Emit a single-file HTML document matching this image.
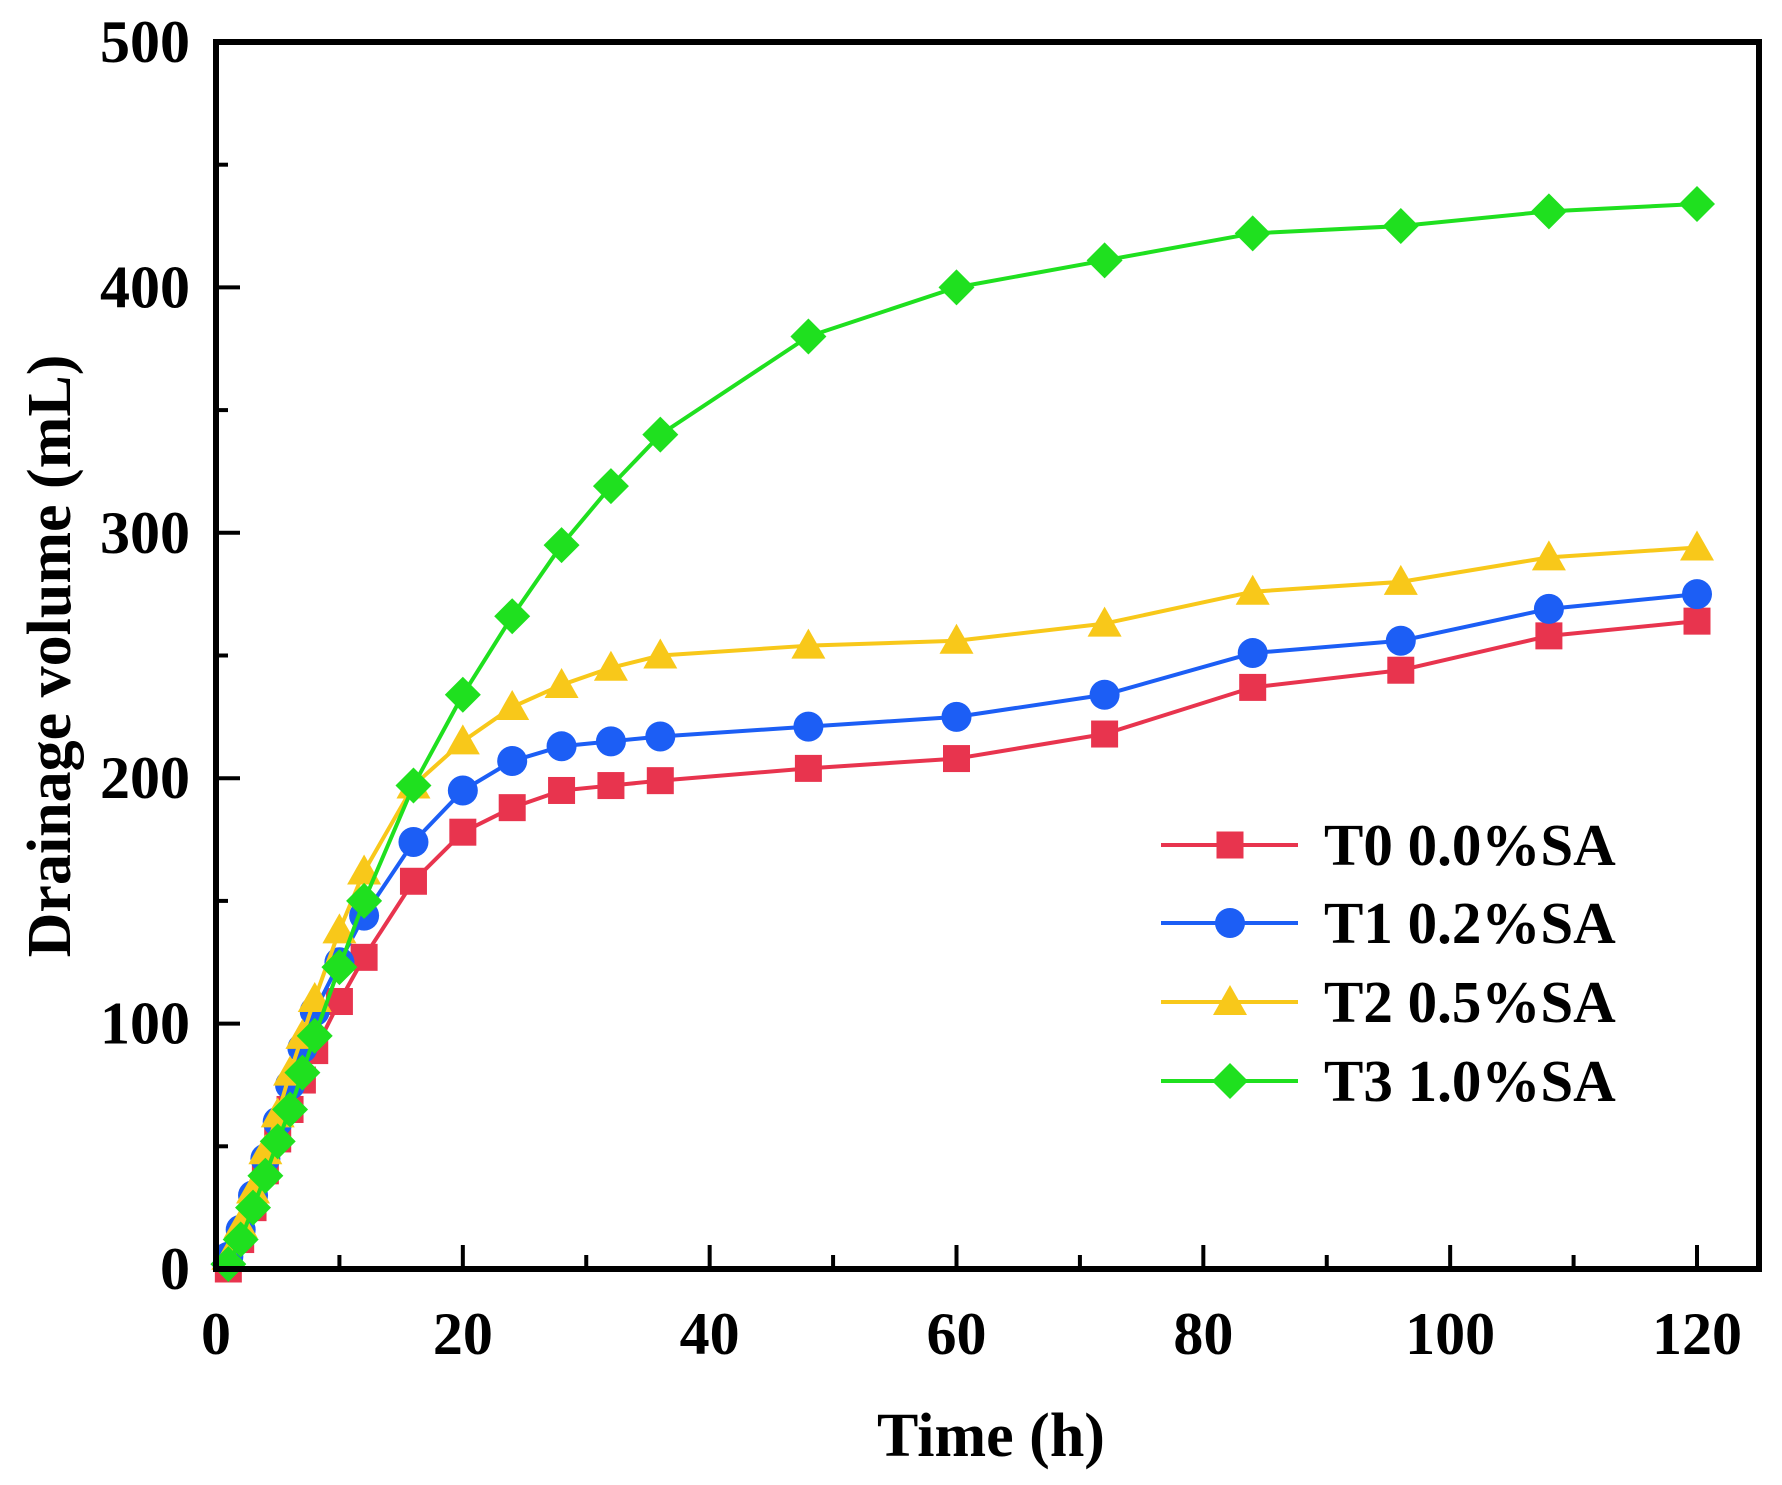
<!DOCTYPE html>
<html><head><meta charset="utf-8"><style>
html,body{margin:0;padding:0;background:#fff;}
svg{display:block;}
text{font-family:"Liberation Serif",serif;font-weight:bold;fill:#000;}
</style></head><body>
<svg id="chart" width="1782" height="1485" viewBox="0 0 1782 1485" xmlns="http://www.w3.org/2000/svg">
<g id="marks"></g>
<g id="axes"></g>
<g id="legend"></g>
</svg>
<script>
const times = [1,2,3,4,5,6,7,8,10,12,16,20,24,28,32,36,48,60,72,84,96,108,120];
const t0Values = [0,12,25,40,53,65,77,89,109,127,158,178,188,195,197,199,204,208,218,237,244,258,264];
const t1Values = [5,16,30,45,60,75,90,105,125,144,174,195,207,213,215,217,221,225,234,251,256,269,275];
const t2Values = [5,18,32,48,63,80,95,110,138,162,197,215,229,238,245,250,254,256,263,276,280,290,294];
const t3Values = [2,12,25,38,52,65,80,95,123,150,197,234,266,295,319,340,380,400,411,422,425,431,434];
const seriesNames = ["T0 0.0%SA","T1 0.2%SA","T2 0.5%SA","T3 1.0%SA"];
const xTicks = [0,20,40,60,80,100,120];
const yTicks = [0,100,200,300,400,500];

const NS="http://www.w3.org/2000/svg";
const L=216,R=1759,T=42,B=1269;
const x0=216, x120=1697;
function xs(v){return x0+(x120-x0)*v/120;}
function ys(v){return B-(B-T)*v/500;}
function mk(tag,attrs,parent){const e=document.createElementNS(NS,tag);for(const k in attrs)e.setAttribute(k,attrs[k]);parent.appendChild(e);return e;}
const marks=document.getElementById('marks'),axes=document.getElementById('axes'),legend=document.getElementById('legend');
const colors=["#e8344e","#1c5ef5","#f8c81a","#1fe01f"];
const shapes=["square","circle","triangle","diamond"];
const data=[t0Values,t1Values,t2Values,t3Values];
function marker(shape,x,y,color,parent){
  let e;
  if(shape==="square") e=mk('rect',{x:x-13.5,y:y-13.5,width:27,height:27,fill:color},parent);
  else if(shape==="circle") e=mk('circle',{cx:x,cy:y,r:15,fill:color},parent);
  else if(shape==="triangle") e=mk('polygon',{points:`${x},${y-17} ${x+17},${y+13} ${x-17},${y+13}`,fill:color},parent);
  else e=mk('polygon',{points:`${x},${y-18} ${x+18},${y} ${x},${y+18} ${x-18},${y}`,fill:color},parent);
  return e;
}
data.forEach((vals,i)=>{
  const g=mk('g',{},marks);
  
  
  const pts=vals.map((v,j)=>xs(times[j])+','+ys(v)).join(' ');
  const line=mk('polyline',{points:pts,fill:'none',stroke:colors[i],'stroke-width':4,'stroke-linejoin':'round'},g);
  
  
  vals.forEach((v,j)=>{
    const m=marker(shapes[i],xs(times[j]),ys(v),colors[i],g);
    
    
  });
});
const frame=mk('rect',{x:L,y:T,width:R-L,height:B-T,fill:'none',stroke:'#000','stroke-width':6},axes);


for(let v=0;v<=120;v+=10){
  const major=v%20===0;
  const tk=mk('line',{x1:xs(v),x2:xs(v),y1:B,y2:B-(major?24:14),stroke:'#000','stroke-width':4},axes);
  
  
}
for(let v=0;v<=500;v+=50){
  const major=v%100===0;
  const tk=mk('line',{x1:L,x2:L+(major?24:12),y1:ys(v),y2:ys(v),stroke:'#000','stroke-width':4},axes);
  
  
}
xTicks.forEach(v=>{
  const t=mk('text',{x:xs(v),y:1354,'text-anchor':'middle','font-size':60},axes);
  t.textContent=v;
  
  
});
yTicks.forEach(v=>{
  const t=mk('text',{x:190,y:ys(v)+20,'text-anchor':'end','font-size':60},axes);
  t.textContent=v;
  
  
});
const xt=mk('text',{x:991,y:1456,'text-anchor':'middle','font-size':62},axes);
xt.textContent='Time (h)';


const yt=mk('text',{x:0,y:0,'text-anchor':'middle','font-size':62,transform:'translate(70,656) rotate(-90)'},axes);
yt.textContent='Drainage volume (mL)';


const legY=[845,923,1002,1081];
seriesNames.forEach((n,i)=>{
  const g=mk('g',{},legend);
  
  
  mk('line',{x1:1161,x2:1298,y1:legY[i],y2:legY[i],stroke:colors[i],'stroke-width':4},g);
  marker(shapes[i],1230,legY[i],colors[i],g);
  const t=mk('text',{x:1324,y:legY[i]+20,'font-size':59},g);
  t.textContent=n;
});
</script>
</body></html>
